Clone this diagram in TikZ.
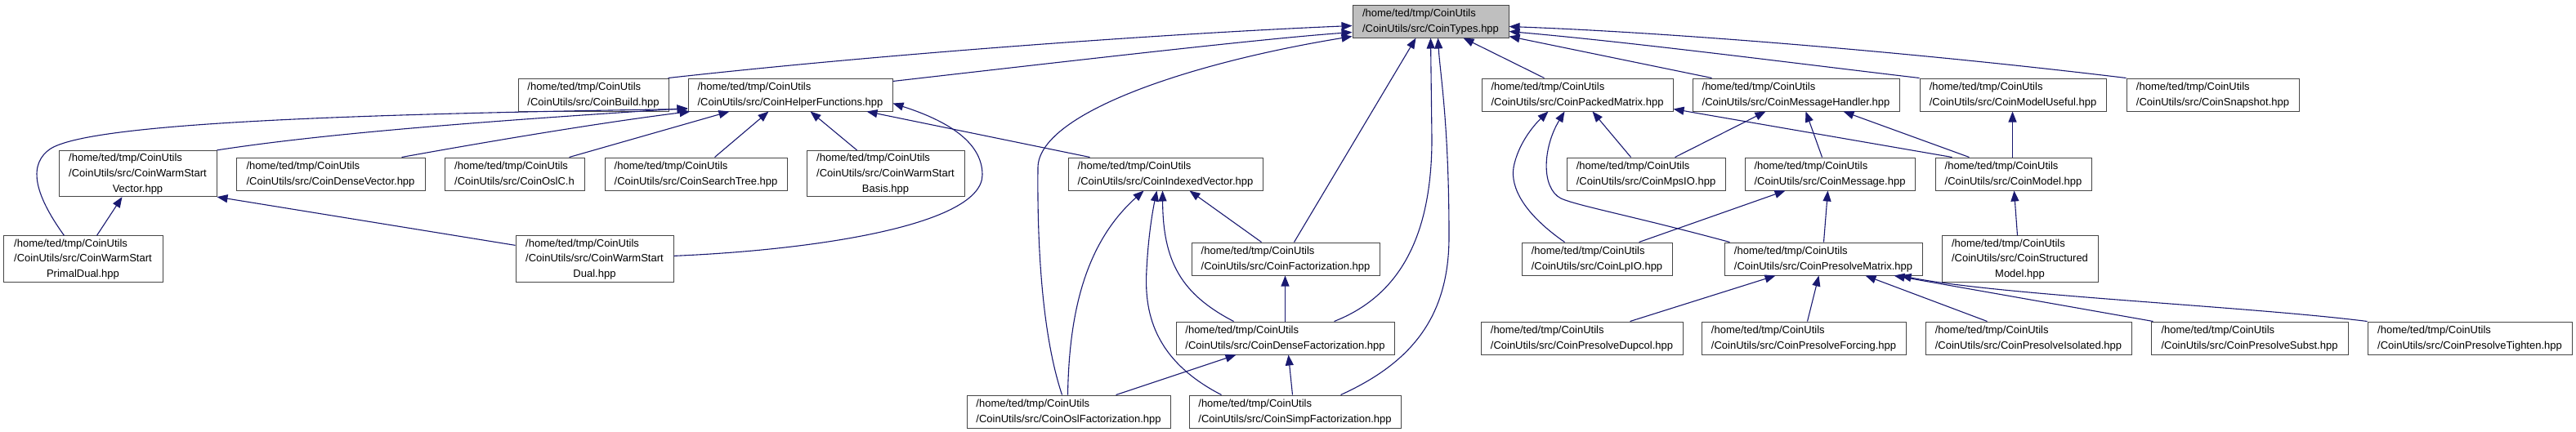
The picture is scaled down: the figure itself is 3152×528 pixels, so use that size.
\documentclass[tikz,border=0pt]{standalone}
\usepackage{fontspec}
\setmainfont{Liberation Sans}
\usetikzlibrary{arrows.meta}
\definecolor{edgeblue}{RGB}{25,25,112}
\definecolor{boxline}{RGB}{70,70,70}
\definecolor{typesfill}{RGB}{191,191,191}
\renewcommand\arraystretch{1.25}
\newcommand\twol[2]{\begin{tabular}{@{}l@{}}#1\\#2\end{tabular}}
\newcommand\threel[3]{\begin{tabular}{@{}l@{}}#1\\#2\\\multicolumn{1}{@{}c@{}}{#3}\end{tabular}}
\newcommand\homep{/home/ted/tmp/CoinUtils}
\newcommand\srcp{/CoinUtils/src/}
\newcommand\bx[6]{\node[box,minimum width=\the\numexpr#4-#2\relax pt,minimum height=\the\numexpr#5-#3\relax pt] (#1) at ({(#2+#4)/2},{(#3+#5)/2}) {#6};}
\begin{document}
\begin{tikzpicture}[x=1pt,y=-1pt,
  box/.style={draw=boxline,line width=1pt,rectangle,inner sep=0pt,fill=white,font=\fontsize{13}{15}\selectfont},
  dep/.style={draw=edgeblue,line width=1.1pt,-{Triangle[length=13pt,width=10pt]}}]
\useasboundingbox (0,0) rectangle (3152,528);
% row 1
\bx{types}{1655}{6}{1846}{46}{\twol{\homep}{\srcp CoinTypes.hpp}}
\node[box,fill=typesfill,minimum width=191pt,minimum height=40pt] at (types) {\twol{\homep}{\srcp CoinTypes.hpp}};
% row 2
\bx{build}{634}{96}{818}{136}{\twol{\homep}{\srcp CoinBuild.hpp}}
\bx{helper}{842}{96}{1092}{136}{\twol{\homep}{\srcp CoinHelperFunctions.hpp}}
\bx{packed}{1813}{96}{2047}{136}{\twol{\homep}{\srcp CoinPackedMatrix.hpp}}
\bx{msgh}{2071}{96}{2324}{136}{\twol{\homep}{\srcp CoinMessageHandler.hpp}}
\bx{museful}{2349}{96}{2577}{136}{\twol{\homep}{\srcp CoinModelUseful.hpp}}
\bx{snap}{2602}{96}{2813}{136}{\twol{\homep}{\srcp CoinSnapshot.hpp}}
% row 3
\bx{wsvec}{72}{185}{265}{240}{\threel{\homep}{\srcp CoinWarmStart}{Vector.hpp}}
\bx{dvec}{289}{193}{520}{233}{\twol{\homep}{\srcp CoinDenseVector.hpp}}
\bx{oslc}{544}{193}{715}{233}{\twol{\homep}{\srcp CoinOslC.h}}
\bx{stree}{740}{193}{963}{233}{\twol{\homep}{\srcp CoinSearchTree.hpp}}
\bx{wsbasis}{987}{185}{1180}{240}{\threel{\homep}{\srcp CoinWarmStart}{Basis.hpp}}
\bx{ivec}{1307}{193}{1545}{233}{\twol{\homep}{\srcp CoinIndexedVector.hpp}}
\bx{mpsio}{1917}{193}{2111}{233}{\twol{\homep}{\srcp CoinMpsIO.hpp}}
\bx{msg}{2135}{193}{2343}{233}{\twol{\homep}{\srcp CoinMessage.hpp}}
\bx{model}{2368}{193}{2559}{233}{\twol{\homep}{\srcp CoinModel.hpp}}
% row 4
\bx{pdual}{4}{289}{199}{345}{\threel{\homep}{\srcp CoinWarmStart}{PrimalDual.hpp}}
\bx{wsdual}{631}{289}{824}{345}{\threel{\homep}{\srcp CoinWarmStart}{Dual.hpp}}
\bx{fact}{1458}{297}{1688}{337}{\twol{\homep}{\srcp CoinFactorization.hpp}}
\bx{lpio}{1862}{297}{2046}{337}{\twol{\homep}{\srcp CoinLpIO.hpp}}
\bx{pm}{2110}{297}{2352}{337}{\twol{\homep}{\srcp CoinPresolveMatrix.hpp}}
\bx{smodel}{2376}{289}{2567}{345}{\threel{\homep}{\srcp CoinStructured}{Model.hpp}}
% row 5
\bx{dfact}{1439}{394}{1706}{434}{\twol{\homep}{\srcp CoinDenseFactorization.hpp}}
\bx{dupcol}{1812}{394}{2059}{434}{\twol{\homep}{\srcp CoinPresolveDupcol.hpp}}
\bx{forcing}{2082}{394}{2332}{434}{\twol{\homep}{\srcp CoinPresolveForcing.hpp}}
\bx{isol}{2356}{394}{2608}{434}{\twol{\homep}{\srcp CoinPresolveIsolated.hpp}}
\bx{subst}{2632}{394}{2873}{434}{\twol{\homep}{\srcp CoinPresolveSubst.hpp}}
\bx{tighten}{2897}{394}{3147}{434}{\twol{\homep}{\srcp CoinPresolveTighten.hpp}}
% row 6
\bx{oslf}{1183}{484}{1432}{524}{\twol{\homep}{\srcp CoinOslFactorization.hpp}}
\bx{simpf}{1455}{484}{1714}{524}{\twol{\homep}{\srcp CoinSimpFactorization.hpp}}

% edges into CoinTypes
\draw[dep] ([xshift=-1pt]build.north east) .. controls (1100,64) and (1450,40) .. ([yshift=-26pt]types.north west);
\draw[dep] ([yshift=-4pt]helper.north east) .. controls (1350,70) and (1550,47) .. ([yshift=-34pt]types.north west);
\draw[dep] ([xshift=117pt]oslf.north west) .. controls (1275,410) and (1269,300) .. (1270,205) .. controls (1271,140) and (1450,78) .. ([yshift=-39pt]types.north west);
\draw[dep] ([xshift=126pt]fact.north west) -- ([xshift=78pt]types.south west);
\draw[dep] ([xshift=194pt]dfact.north west) .. controls (1705,365) and (1752,300) .. (1752,170) -- ([xshift=96pt]types.south west);
\draw[dep] ([xshift=186pt]simpf.north west) .. controls (1725,445) and (1773,390) .. (1773,290) .. controls (1773,150) and (1762,90) .. ([xshift=105pt]types.south west);
\draw[dep] ([xshift=77pt]packed.north west) -- ([xshift=-56pt]types.south east);
\draw[dep] ([xshift=24pt]msgh.north west) -- ([yshift=-39pt]types.north east);
\draw[dep] (museful.north west) .. controls (2200,78) and (2000,52) .. ([yshift=-33pt]types.north east);
\draw[dep] (snap.north west) .. controls (2350,65) and (2050,40) .. ([yshift=-27pt]types.north east);
% edges into CoinHelperFunctions
\draw[dep] ([xshift=75pt]pdual.north west) .. controls (40,235) and (35,200) .. (62,182) .. controls (110,152) and (400,140) .. ([yshift=-38pt]helper.north west);
\draw[dep] (wsvec.north east) .. controls (400,163) and (600,148) .. ([yshift=-37pt]helper.north west);
\draw[dep] ([xshift=203pt]dvec.north west) .. controls (560,180) and (720,152) .. ([xshift=3pt]helper.south west);
\draw[dep] ([xshift=153pt]oslc.north west) -- ([xshift=51pt]helper.south west);
\draw[dep] ([xshift=135pt]stree.north west) -- ([xshift=99pt]helper.south west);
\draw[dep] ([xshift=62pt]wsbasis.north west) -- ([xshift=150pt]helper.south west);
\draw[dep] ([xshift=27pt]ivec.north west) -- ([xshift=-32pt]helper.south east);
\draw[dep] ([yshift=-25pt]wsdual.north east) .. controls (1000,306) and (1202,275) .. (1202,214) .. controls (1202,170) and (1150,145) .. ([yshift=-31pt]helper.north east);
% edges into CoinWarmStartVector
\draw[dep] ([xshift=115pt]pdual.north west) -- ([xshift=78pt]wsvec.south west);
\draw[dep] ([yshift=-12pt]wsdual.north west) -- (wsvec.south east);
% edges into CoinIndexedVector
\draw[dep] ([xshift=124pt]oslf.north west) .. controls (1308,390) and (1325,300) .. ([xshift=93pt]ivec.south west);
\draw[dep] ([xshift=40pt]simpf.north west) .. controls (1410,440) and (1400,380) .. (1403,330) .. controls (1405,290) and (1410,260) .. ([xshift=109pt]ivec.south west);
\draw[dep] ([xshift=71pt]dfact.north west) .. controls (1445,360) and (1423,320) .. ([xshift=116pt]ivec.south west);
\draw[dep] ([xshift=86pt]fact.north west) -- ([xshift=149pt]ivec.south west);
% factorizations
\draw[dep] ([xshift=134pt]dfact.north west) -- ([xshift=115pt]fact.south west);
\draw[dep] ([xshift=183pt]oslf.north west) -- ([xshift=74pt]dfact.south west);
\draw[dep] ([xshift=127pt]simpf.north west) -- ([xshift=138pt]dfact.south west);
% edges into CoinPackedMatrix
\draw[dep] ([xshift=21pt]model.north west) -- ([yshift=-38pt]packed.north east);
\draw[dep] ([xshift=79pt]mpsio.north west) -- ([xshift=136pt]packed.south west);
\draw[dep] ([xshift=53pt]lpio.north west) .. controls (1865,262) and (1848,230) .. (1852,205) .. controls (1857,178) and (1875,155) .. ([xshift=82pt]packed.south west);
\draw[dep] ([xshift=7pt]pm.north west) .. controls (2000,265) and (1930,252) .. (1910,243) .. controls (1885,230) and (1888,180) .. ([xshift=102pt]packed.south west);
% edges into CoinMessageHandler
\draw[dep] ([xshift=133pt]mpsio.north west) -- ([xshift=90pt]msgh.south west);
\draw[dep] ([xshift=95pt]msg.north west) -- ([xshift=139pt]msgh.south west);
\draw[dep] ([xshift=42pt]model.north west) -- ([xshift=185pt]msgh.south west);
% model / message
\draw[dep] ([xshift=95pt]model.north west) -- ([xshift=114pt]museful.south west);
\draw[dep] ([xshift=93pt]smodel.north west) -- ([xshift=97pt]model.south west);
\draw[dep] ([xshift=144pt]lpio.north west) -- ([xshift=50pt]msg.south west);
\draw[dep] ([xshift=122pt]pm.north west) -- ([xshift=102pt]msg.south west);
% edges into CoinPresolveMatrix
\draw[dep] ([xshift=183pt]dupcol.north west) -- ([xshift=63pt]pm.south west);
\draw[dep] ([xshift=130pt]forcing.north west) -- ([xshift=116pt]pm.south west);
\draw[dep] ([xshift=76pt]isol.north west) -- ([xshift=173pt]pm.south west);
\draw[dep] ([xshift=3pt]subst.north west) -- ([xshift=208pt]pm.south west);
\draw[dep] (tighten.north west) .. controls (2750,375) and (2450,362) .. ([xshift=216pt]pm.south west);
\end{tikzpicture}
\end{document}
